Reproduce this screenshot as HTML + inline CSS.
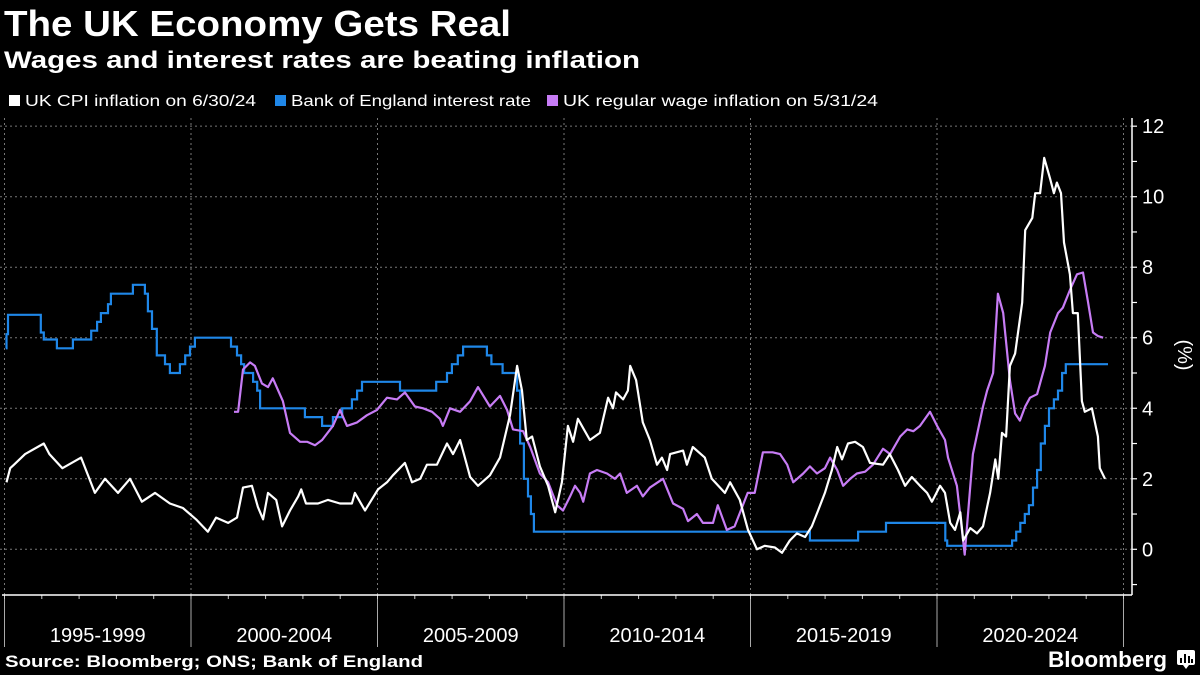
<!DOCTYPE html>
<html><head><meta charset="utf-8">
<style>
html,body{margin:0;padding:0;background:#000;}
svg{display:block;font-family:"Liberation Sans",sans-serif;}
</style></head>
<body>
<svg id="chart" width="1200" height="675" viewBox="0 0 1200 675">
<rect x="0" y="0" width="1200" height="675" fill="#000"/>
<text x="4" y="36" font-size="36" font-weight="bold" fill="#fff" textLength="507" lengthAdjust="spacingAndGlyphs">The UK Economy Gets Real</text>
<text x="4" y="68" font-size="24" font-weight="bold" fill="#fff" textLength="636" lengthAdjust="spacingAndGlyphs">Wages and interest rates are beating inflation</text>
<g>
<g>
<rect x="9" y="95" width="11" height="11" fill="#fff"/>
<text x="25" y="106" font-size="16" fill="#fff" textLength="231" lengthAdjust="spacingAndGlyphs">UK CPI inflation on 6/30/24</text>
</g>
<g>
<rect x="275" y="95" width="11" height="11" fill="#1f87e8"/>
<text x="291" y="106" font-size="16" fill="#fff" textLength="240" lengthAdjust="spacingAndGlyphs">Bank of England interest rate</text>
</g>
<g>
<rect x="547" y="95" width="11" height="11" fill="#c77cf5"/>
<text x="563" y="106" font-size="16" fill="#fff" textLength="315" lengthAdjust="spacingAndGlyphs">UK regular wage inflation on 5/31/24</text>
</g>
</g>
<g id="grid"></g>
<g id="axes"></g>
<g id="series"></g>
<text transform="translate(1178,355) rotate(90)" font-size="20" fill="#fff" text-anchor="middle">(%)</text>
<text x="5" y="667" font-size="16.5" font-weight="bold" fill="#fff" textLength="418" lengthAdjust="spacingAndGlyphs">Source: Bloomberg; ONS; Bank of England</text>
<text x="1048" y="667" font-size="22" font-weight="bold" fill="#fff" textLength="119" lengthAdjust="spacingAndGlyphs">Bloomberg</text>
<g>
<rect x="1177" y="650" width="18" height="15" rx="2" fill="#fff"/>
<polygon points="1183,665 1189,665 1186,669" fill="#fff"/>
<rect x="1180" y="658" width="2" height="5" fill="#000"/><rect x="1184" y="654" width="2" height="9" fill="#000"/><rect x="1188" y="656" width="2" height="7" fill="#000"/><rect x="1191" y="659" width="2" height="4" fill="#000"/>
</g>
</svg>
<script>
// ---- data ----
const yTicks = [0, 2, 4, 6, 8, 10, 12];
const periodLabels = ["1995-1999","2000-2004","2005-2009","2010-2014","2015-2019","2020-2024"];
const periodStarts = [1995, 2000, 2005, 2010, 2015, 2020];

const cpiDates = [1995.0,1995.1,1995.2,1995.5,1996.0,1996.15,1996.5,1997.0,1997.37,1997.64,1997.99,1998.31,1998.63,1998.98,1999.38,1999.73,2000.08,2000.4,2000.62,2000.94,2001.18,2001.34,2001.58,2001.74,2001.88,2002.01,2002.23,2002.39,2002.6,2002.82,2002.9,2003.03,2003.35,2003.62,2003.94,2004.26,2004.34,2004.61,2004.96,2005.2,2005.36,2005.68,2005.87,2006.09,2006.27,2006.54,2006.81,2006.97,2007.16,2007.43,2007.64,2007.96,2008.23,2008.5,2008.69,2008.82,2008.95,2009.09,2009.3,2009.52,2009.71,2009.89,2010.05,2010.19,2010.32,2010.64,2010.91,2011.13,2011.26,2011.34,2011.53,2011.66,2011.72,2011.88,2012.06,2012.25,2012.44,2012.57,2012.71,2012.79,2013.14,2013.24,2013.4,2013.72,2013.91,2014.26,2014.4,2014.66,2014.88,2015.12,2015.33,2015.6,2015.79,2016.0,2016.19,2016.41,2016.59,2016.76,2016.94,2017.13,2017.27,2017.4,2017.56,2017.75,2017.96,2018.15,2018.5,2018.68,2018.9,2019.09,2019.27,2019.49,2019.68,2019.81,2020.03,2020.16,2020.3,2020.43,2020.57,2020.65,2020.84,2021.02,2021.18,2021.37,2021.51,2021.59,2021.69,2021.8,2021.9,2022.04,2022.23,2022.31,2022.5,2022.58,2022.71,2022.82,2022.98,2023.08,2023.16,2023.27,2023.35,2023.51,2023.59,2023.72,2023.83,2023.91,2024.1,2024.26,2024.31,2024.45];
const cpiValues = [1.9,2.3,2.4,2.7,3.0,2.7,2.3,2.6,1.6,2.0,1.6,2.0,1.35,1.6,1.3,1.17,0.85,0.5,0.9,0.75,0.9,1.75,1.8,1.2,0.85,1.6,1.4,0.65,1.1,1.5,1.7,1.3,1.3,1.4,1.3,1.3,1.6,1.1,1.7,1.9,2.1,2.45,1.9,2.0,2.4,2.4,3.0,2.7,3.1,2.05,1.8,2.1,2.6,3.8,5.2,4.5,3.1,3.2,2.35,1.8,1.05,1.9,3.5,3.05,3.7,3.1,3.3,4.3,4.0,4.45,4.25,4.5,5.2,4.8,3.6,3.1,2.4,2.6,2.25,2.7,2.8,2.4,2.9,2.6,2.0,1.6,1.9,1.4,0.55,0.0,0.1,0.05,-0.1,0.25,0.45,0.35,0.65,1.1,1.6,2.25,2.9,2.55,3.0,3.05,2.9,2.45,2.4,2.7,2.25,1.8,2.05,1.8,1.6,1.35,1.8,1.6,0.75,0.55,1.05,0.25,0.6,0.45,0.65,1.6,2.55,2.0,3.3,3.2,5.2,5.55,7.0,9.05,9.4,10.1,10.1,11.1,10.5,10.1,10.4,10.1,8.7,7.8,6.7,6.7,4.2,3.9,4.0,3.2,2.3,2.0];

const wageDates = [2001.1,2001.21,2001.34,2001.53,2001.66,2001.85,2002.01,2002.14,2002.41,2002.6,2002.87,2003.06,2003.27,2003.46,2003.75,2003.94,2004.13,2004.4,2004.66,2004.93,2005.2,2005.47,2005.68,2005.95,2006.17,2006.41,2006.62,2006.7,2006.89,2007.16,2007.43,2007.64,2007.96,2008.23,2008.42,2008.58,2008.85,2009.04,2009.3,2009.52,2009.76,2009.92,2010.11,2010.24,2010.38,2010.46,2010.64,2010.83,2011.1,2011.31,2011.45,2011.63,2011.9,2012.06,2012.25,2012.6,2012.87,2013.14,2013.27,2013.51,2013.67,2013.94,2014.07,2014.31,2014.52,2014.87,2015.06,2015.28,2015.54,2015.74,2015.93,2016.09,2016.36,2016.54,2016.73,2016.94,2017.08,2017.27,2017.43,2017.62,2017.8,2018.02,2018.23,2018.5,2018.69,2018.96,2019.15,2019.31,2019.49,2019.76,2019.95,2020.16,2020.24,2020.48,2020.69,2020.91,2021.18,2021.29,2021.45,2021.58,2021.72,2021.9,2022.04,2022.17,2022.31,2022.44,2022.63,2022.84,2022.98,2023.19,2023.32,2023.51,2023.7,2023.86,2023.99,2024.13,2024.26,2024.4];
const wageValues = [3.9,3.9,5.1,5.3,5.2,4.7,4.6,4.85,4.2,3.3,3.05,3.05,2.95,3.1,3.5,3.95,3.5,3.6,3.8,3.95,4.3,4.25,4.45,4.05,4.0,3.9,3.7,3.5,4.0,3.9,4.2,4.6,4.05,4.35,3.95,3.4,3.35,2.9,2.15,1.9,1.25,1.1,1.5,1.8,1.6,1.35,2.15,2.25,2.15,2.0,2.15,1.6,1.8,1.5,1.75,2.0,1.3,1.15,0.8,1.0,0.75,0.75,1.25,0.55,0.65,1.6,1.6,2.75,2.75,2.7,2.4,1.9,2.15,2.35,2.15,2.3,2.6,2.25,1.8,2.0,2.15,2.2,2.4,2.85,2.7,3.2,3.4,3.35,3.5,3.9,3.5,3.1,2.6,1.8,-0.15,2.7,4.05,4.5,5.0,7.25,6.7,4.8,3.85,3.65,4.05,4.3,4.4,5.2,6.15,6.7,6.85,7.35,7.8,7.85,7.05,6.15,6.05,6.0,5.7];

const bankDates = [1994.98,1995.0,1995.04,1995.92,1996.0,1996.35,1996.78,1997.27,1997.43,1997.53,1997.72,1997.8,1998.39,1998.71,1998.79,1998.9,1999.03,1999.25,1999.38,1999.65,1999.79,1999.92,2000.05,2001.02,2001.18,2001.29,2001.37,2001.61,2001.72,2001.8,2003.0,2003.46,2003.75,2004.0,2004.26,2004.4,2004.53,2005.55,2006.52,2006.81,2006.94,2007.1,2007.24,2007.88,2008.0,2008.3,2008.69,2008.77,2008.87,2008.98,2009.06,2009.14,2016.54,2017.83,2018.58,2020.17,2020.22,2021.96,2022.07,2022.18,2022.3,2022.41,2022.52,2022.63,2022.73,2022.84,2022.95,2023.08,2023.19,2023.3,2023.4];
const bankRates = [5.7,6.1,6.65,6.15,5.95,5.7,5.95,6.2,6.45,6.7,6.95,7.25,7.5,7.25,6.75,6.25,5.5,5.25,5.0,5.25,5.5,5.75,6.0,5.75,5.5,5.25,5.0,4.75,4.5,4.0,3.75,3.5,3.75,4.0,4.25,4.5,4.75,4.5,4.75,5.0,5.25,5.5,5.75,5.5,5.25,5.0,4.5,3.0,2.0,1.5,1.0,0.5,0.25,0.5,0.75,0.25,0.1,0.25,0.5,0.75,1.0,1.25,1.75,2.25,3.0,3.5,4.0,4.25,4.5,5.0,5.25];
const bankEnd = 2024.53;

// ---- axes ----
const X0 = 6.5, PX_PER_YEAR = 37.3;
const Y0 = 549.3, PX_PER_UNIT = 35.26;
function xs(year){ return X0 + (year - 1995) * PX_PER_YEAR; }
function ys(v){ return Y0 - v * PX_PER_UNIT; }
const NS = "http://www.w3.org/2000/svg";
function mk(tag, attrs, parent){
  const el = document.createElementNS(NS, tag);
  for (const k in attrs) el.setAttribute(k, attrs[k]);
  parent.appendChild(el);
  return el;
}
const grid = document.getElementById("grid");
const axes = document.getElementById("axes");
const series = document.getElementById("series");
const AXR = 1132, AXB = 595, TOP = 118;

for (let v = -1; v <= 12; v++) {
  const y = ys(v);
  const t = mk("line", {x1: AXR, x2: AXR + 5, y1: y, y2: y, stroke: "#fff", "stroke-width": 1.2}, axes);
  
  
}
yTicks.forEach(v => {
  const y = ys(v);
  const g = mk("line", {x1: 0, x2: AXR, y1: y, y2: y, stroke: "#777", "stroke-width": 1, "stroke-dasharray": "2,3"}, grid);
  
  
  const lb = mk("text", {x: AXR + 10, y: y + 7, "font-size": 20, fill: "#fff"}, axes);
  lb.textContent = String(v);
  
  
});
const bounds = periodStarts.concat([2025]);
bounds.forEach(yr => {
  const x = xs(yr) - 2;
  const g = mk("line", {x1: x, x2: x, y1: TOP, y2: AXB, stroke: "#777", "stroke-width": 1, "stroke-dasharray": "2,3"}, grid);
  
  
  const d = mk("line", {x1: x, x2: x, y1: AXB, y2: 647, stroke: "#aaa", "stroke-width": 1}, axes);
  
  
});
for (let yr = 1995; yr <= 2025; yr++) {
  const x = xs(yr) - 2;
  const t = mk("line", {x1: x, x2: x, y1: AXB, y2: AXB + 4, stroke: "#ccc", "stroke-width": 1}, axes);
  
  
}
periodLabels.forEach((lab, i) => {
  const cx = (xs(periodStarts[i]) + xs(periodStarts[i] + 5)) / 2 - 2;
  const t = mk("text", {x: cx, y: 642, "font-size": 20, fill: "#fff", "text-anchor": "middle"}, axes);
  t.textContent = lab;
  
  
});
const ax1 = mk("line", {x1: 2, x2: AXR, y1: AXB, y2: AXB, stroke: "#fff", "stroke-width": 1.5}, axes);


const ax2 = mk("line", {x1: AXR, x2: AXR, y1: TOP, y2: AXB, stroke: "#fff", "stroke-width": 1.5}, axes);



// ---- series ----
let bd = "M" + xs(bankDates[0]).toFixed(1) + " " + ys(bankRates[0]).toFixed(1);
for (let i = 0; i < bankDates.length; i++) {
  const nx = i + 1 < bankDates.length ? xs(bankDates[i + 1]) : xs(bankEnd);
  bd += " H" + nx.toFixed(1);
  if (i + 1 < bankDates.length) bd += " V" + ys(bankRates[i + 1]).toFixed(1);
}
const bank = mk("path", {d: bd, fill: "none", stroke: "#1f87e8", "stroke-width": 2.2}, series);



function linePath(dates, vals){
  return dates.map((d, i) => (i ? "L" : "M") + xs(d).toFixed(1) + " " + ys(vals[i]).toFixed(1)).join(" ");
}
const wage = mk("path", {d: linePath(wageDates, wageValues), fill: "none", stroke: "#c77cf5", "stroke-width": 2.2, "stroke-linejoin": "round"}, series);


const cpi = mk("path", {d: linePath(cpiDates, cpiValues), fill: "none", stroke: "#fff", "stroke-width": 2.2, "stroke-linejoin": "round"}, series);


</script>
</body></html>
